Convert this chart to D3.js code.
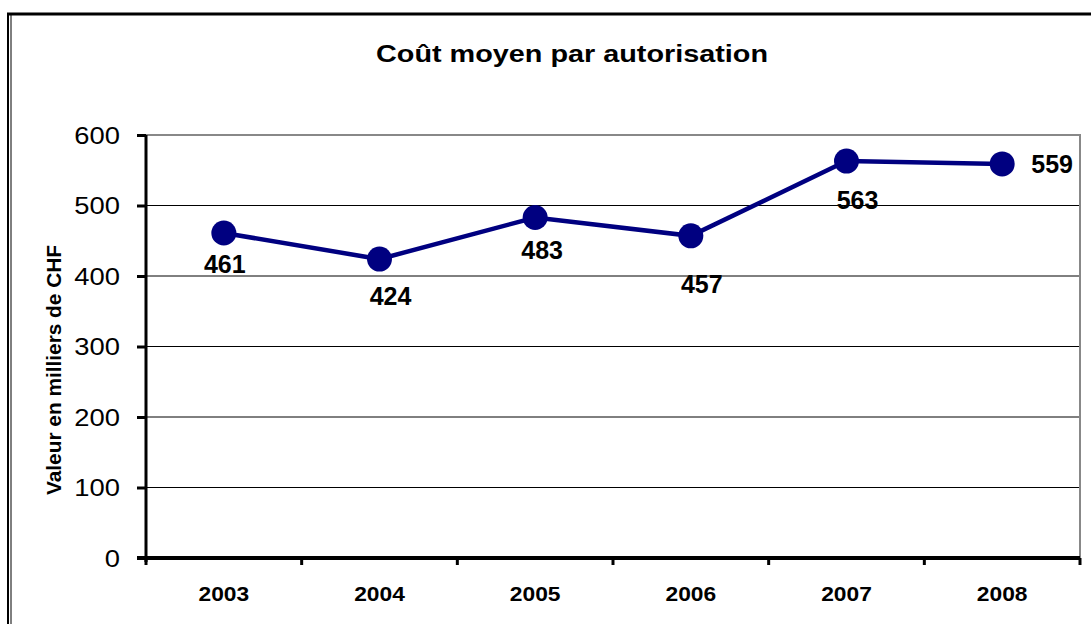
<!DOCTYPE html>
<html>
<head>
<meta charset="utf-8">
<script src="https://cdn.jsdelivr.net/npm/d3@7"></script>
<style>
  body { margin: 0; background: #fff; }
  text { font-family: "Liberation Sans", Arial, sans-serif; }
</style>
</head>
<body>
<div class="chart"></div>
<script>
// data
const years = ["2003", "2004", "2005", "2006", "2007", "2008"];
const costs = [461, 424, 483, 457, 563, 559];
const yTicks = [0, 100, 200, 300, 400, 500, 600];
// label nudges (dx, dy from each point)
const labelDx = [1, 11, 7, 11, 11, 50];
const labelDy = [40, 46, 42, 57, 48, 9];

const width = 1091, height = 624;
const margin = { left: 146, right: 11, top: 135, bottom: 66 };

const svg = d3.select(".chart").append("svg")
    .attr("width", width).attr("height", height);

// outer frame
svg.append("line").attr("x1", 7).attr("x2", width).attr("y1", 14).attr("y2", 14)
    .attr("stroke", "#000").attr("stroke-width", 3);
svg.append("line").attr("x1", 8).attr("x2", 8).attr("y1", 13).attr("y2", height)
    .attr("stroke", "#000").attr("stroke-width", 2);
svg.append("line").attr("x1", 11).attr("x2", 11).attr("y1", 15).attr("y2", height)
    .attr("stroke", "#000").attr("stroke-width", 1);

const x = d3.scaleBand().domain(years)
    .range([margin.left, width - margin.right]);
const y = d3.scaleLinear().domain([0, 600])
    .range([height - margin.bottom, margin.top]);

// stretched text helper (reference text is wider than tall)
function stretched(g, px, py, sx) {
    return g.attr("transform", `translate(${px},${py}) scale(${sx},1)`);
}

// title
svg.append("text")
    .attr("x", 572).attr("y", 62)
    .attr("text-anchor", "middle")
    .attr("font-size", 23).attr("font-weight", "bold")
    .attr("textLength", 392).attr("lengthAdjust", "spacingAndGlyphs")
    .text("Coût moyen par autorisation");

// gridlines
svg.append("g").selectAll("line").data(yTicks.filter(d => d > 0 && d < 600)).enter()
    .append("line")
    .attr("x1", margin.left).attr("x2", width - margin.right)
    .attr("y1", d => y(d)).attr("y2", d => y(d))
    .attr("stroke", "#000").attr("stroke-width", 1);

// plot border (gray)
svg.append("path")
    .attr("d", `M${margin.left},${y(600)}H${width - margin.right}V${y(0)}`)
    .attr("fill", "none").attr("stroke", "#888").attr("stroke-width", 2);

// y axis
const yAxis = svg.append("g").attr("transform", `translate(${margin.left},0)`)
    .call(d3.axisLeft(y).tickValues(yTicks).tickSize(9).tickPadding(17));
yAxis.select(".domain").attr("stroke-width", 3)
    .attr("d", `M0,${y(600)}V${y(0) + 4}`);
yAxis.selectAll(".tick line").attr("stroke-width", 3);
yAxis.selectAll(".tick text").remove();
yAxis.selectAll(".tick").each(function (d) {
    stretched(d3.select(this).append("text"), -26, 8, 1.14)
        .attr("text-anchor", "end").attr("font-size", 24)
        .attr("fill", "#000").attr("font-weight", "normal")
        .text(d);
});

// x axis
const xAxis = svg.append("g").attr("transform", `translate(0,${y(0)})`);
xAxis.append("line").attr("x1", margin.left - 9).attr("x2", width - margin.right)
    .attr("stroke", "#000").attr("stroke-width", 4);
const bounds = years.map(d => x(d)).concat([x(years[years.length - 1]) + x.bandwidth()]);
xAxis.selectAll(".xt").data(bounds).enter().append("line")
    .attr("x1", d => d).attr("x2", d => d).attr("y1", 0).attr("y2", 7)
    .attr("stroke", "#000").attr("stroke-width", 3);
xAxis.selectAll(".xl").data(years).enter().append("text")
    .each(function (d) {
        stretched(d3.select(this), x(d) + x.bandwidth() / 2, 43, 1.14);
    })
    .attr("text-anchor", "middle").attr("font-size", 20).attr("font-weight", "bold")
    .text(d => d);

// y title
svg.append("text")
    .attr("transform", `translate(61,370) rotate(-90) scale(1,1.15)`)
    .attr("text-anchor", "middle").attr("font-size", 18).attr("font-weight", "bold")
    .attr("textLength", 250).attr("lengthAdjust", "spacingAndGlyphs")
    .text("Valeur en milliers de CHF");

// series
const cx = d => x(d) + x.bandwidth() / 2;
const line = d3.line().x((d, i) => cx(years[i])).y(d => y(d));
svg.append("path").datum(costs).attr("d", line)
    .attr("fill", "none").attr("stroke", "#000080").attr("stroke-width", 4.5);
svg.selectAll(".dot").data(costs).enter().append("circle")
    .attr("cx", (d, i) => cx(years[i])).attr("cy", d => y(d)).attr("r", 12.5)
    .attr("fill", "#000080");
svg.selectAll(".lbl").data(costs).enter().append("text")
    .attr("x", (d, i) => cx(years[i]) + labelDx[i])
    .attr("y", (d, i) => y(d) + labelDy[i])
    .attr("text-anchor", "middle").attr("font-size", 25).attr("font-weight", "bold")
    .text(d => d);
</script>
</body>
</html>
